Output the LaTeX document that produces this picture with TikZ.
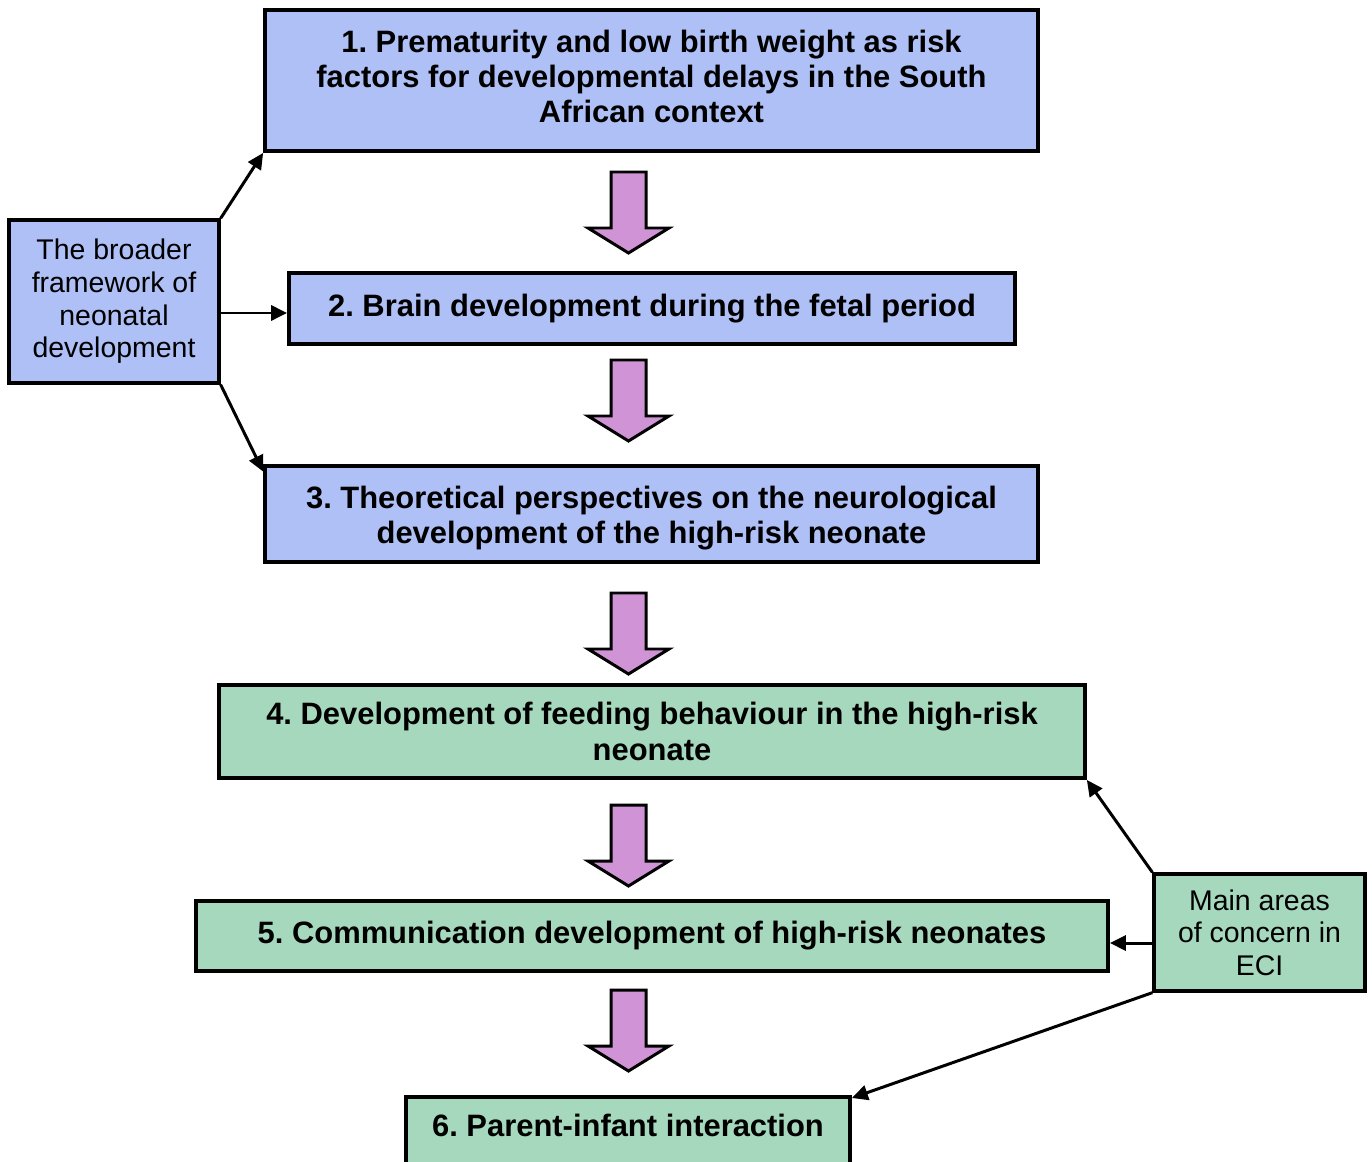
\documentclass[tikz,border=0pt]{standalone}
\usepackage{fontspec}
\setmainfont{Liberation Sans}
\usepackage{tikz}
\usetikzlibrary{arrows.meta, positioning, calc}
\definecolor{framework}{RGB}{174,192,246}
\definecolor{concern}{RGB}{166,216,190}
\definecolor{flow}{RGB}{208,148,214}
\frenchspacing

\begin{document}
\begin{tikzpicture}[x=0.02cm, y=-0.02cm]
        % Define styles
        \tikzstyle{topic} = [rectangle, draw, line width=2.2pt, align=center, font=\fontsize{17.6}{20}\selectfont\bfseries, inner sep=0pt]
        \tikzstyle{side} = [rectangle, draw, line width=1.9pt, align=center, font=\fontsize{16.2}{18.6}\selectfont, inner sep=0pt]
        \tikzstyle{arrow} = [-{Triangle[length=3.2mm, width=3mm]}, line width=1.7pt]
        \tikzstyle{fatarrow} = [fill=flow, draw=black, line width=1.7pt, line join=miter]
        \newcommand{\fatdown}[1]{\filldraw[fatarrow] (611,#1) -- (646,#1) -- (646,#1+56) -- (669,#1+56) -- (628.5,#1+81) -- (588,#1+56) -- (611,#1+56) -- cycle;}

        \useasboundingbox (0,0) rectangle (1372,1162);

        % Chapters
        \node[topic, fill=framework, minimum width=15.46cm, minimum height=2.82cm] (box1) at (651.5,80.5) {1. Prematurity and low birth weight as risk\\factors for developmental delays in the South\\African context\rule[-4.5pt]{0pt}{1pt}};
        \node[topic, fill=framework, minimum width=14.52cm, minimum height=1.42cm] (box2) at (652,308.5) {2. Brain development during the fetal period};
        \node[topic, fill=framework, minimum width=15.46cm, minimum height=1.92cm] (box3) at (651.5,514) {\rule{0pt}{17.4pt}3. Theoretical perspectives on the neurological\\development of the high-risk neonate};
        \node[topic, fill=concern, minimum width=17.32cm, minimum height=1.86cm] (box4) at (652,731.5) {4. Development of feeding behaviour in the high-risk\\neonate};
        \node[topic, fill=concern, minimum width=18.24cm, minimum height=1.40cm] (box5) at (652,936) {5. Communication development of high-risk neonates};
        \node[topic, fill=concern, minimum width=8.88cm, anchor=north, inner ysep=0.2cm, text height=0.6cm, text depth=1.2cm] (box6) at (628,1095) {6. Parent-infant interaction};

        % Side boxes
        \node[side, fill=framework, minimum width=4.2cm, minimum height=3.26cm] (lbox) at (114,301.5) {The broader\\framework of\\neonatal\\development};
        \node[side, fill=concern, minimum width=4.22cm, minimum height=2.34cm] (rbox) at (1259.5,932.5) {Main areas\\of concern in\\ECI};

        % Flow between chapters
        \fatdown{172}
        \fatdown{360}
        \fatdown{593}
        \fatdown{805}
        \fatdown{990}

        % Connections
        \draw[arrow] (lbox.north east) -- (box1.south west);
        \draw[arrow] ([yshift=-0.23cm]lbox.east) -- ([yshift=-0.23cm]lbox.east -| box2.west);
        \draw[arrow] (lbox.south east) -- ([yshift=-0.15cm]box3.north west);
        \draw[arrow] (rbox.north west) -- (box4.south east);
        \draw[arrow] ([yshift=-0.21cm]rbox.west) -- ([yshift=-0.21cm]rbox.west -| box5.east);
        \draw[arrow] (rbox.south west) -- ([yshift=-0.06cm]box6.north east);

    \end{tikzpicture}
\end{document}
